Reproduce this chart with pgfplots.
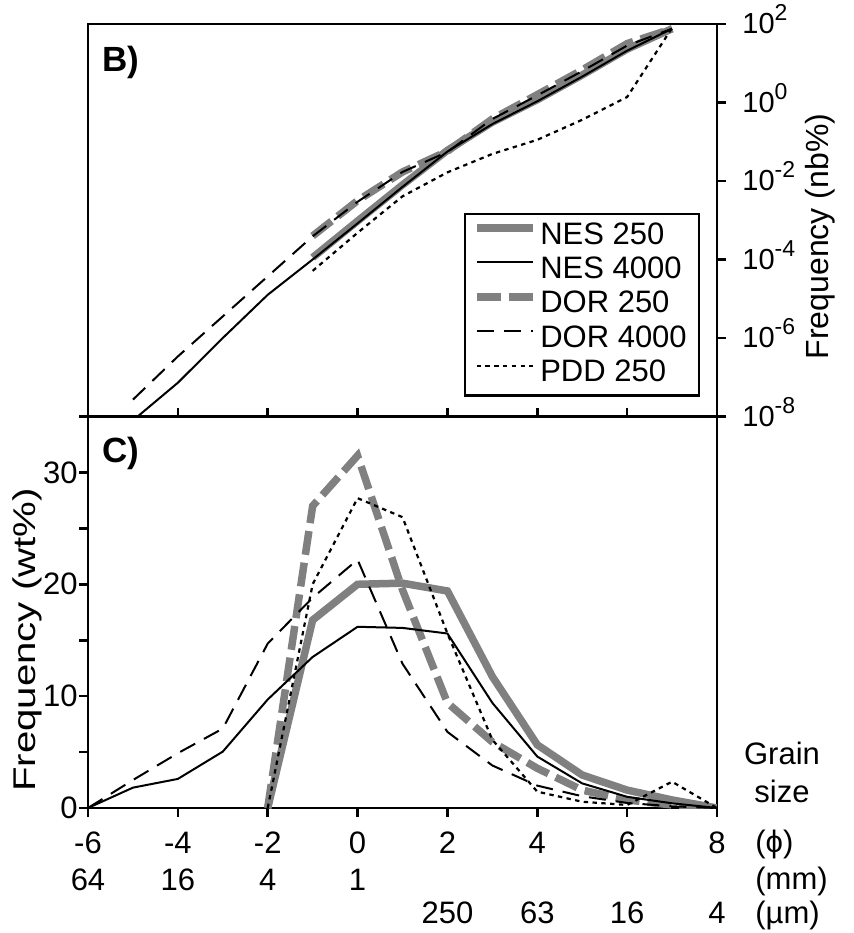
\documentclass[border=0pt]{standalone}
\usepackage{fontspec}
\setmainfont{Liberation Sans}
\usepackage{graphicx}
\usepackage{pgfplots}
\pgfplotsset{compat=1.18}
\definecolor{lg}{RGB}{128,128,128}
\newcommand{\tsup}[1]{10\smash{\raisebox{0.45em}{\fontsize{11.5}{11.5}\selectfont #1}}}
\newcommand{\fs}{\fontsize{15.5}{18}\selectfont}
\begin{document}
\begin{tikzpicture}
\useasboundingbox (0pt,0pt) rectangle (427pt,466.5pt);
\pgfplotsset{
  every axis/.append style={
    scale only axis, width=314.5pt, xmin=-6, xmax=8,
    axis line style={line width=1.3pt},
    every tick/.style={line width=1.3pt, black},
    major tick length=4.5pt,
    clip mode=individual,
  },
  nes250/.style={draw=lg, line width=3.75pt},
  nes4000/.style={black, line width=1pt},
  dor250/.style={draw=lg, line width=3.75pt, dash pattern=on 12pt off 4pt},
  dor4000/.style={black, line width=1pt, dash pattern=on 8.5pt off 5pt},
  pdd250/.style={black, line width=1.1pt, dash pattern=on 2.2pt off 2.2pt},
}
% ---------------- top panel (B) ----------------
\begin{axis}[at={(44pt,258.25pt)}, anchor=south west, height=196.25pt,
  ymode=log, ymin=1e-8, ymax=100,
  xtick=\empty, yminorticks=false,
  ytick={1e-8,1e-6,1e-4,1e-2,1,100},
  yticklabels={\tsup{-8},\tsup{-6},\tsup{-4},\tsup{-2},\tsup{0},\tsup{2}},
  ytick pos=right, yticklabel pos=right, tick align=outside,
  yticklabel style={font=\fontsize{14.5}{16}\selectfont, anchor=west, inner xsep=0pt, xshift=8pt},
  legend style={at={(0.973,0.05)}, anchor=south east, draw=black, line width=1.25pt,
    font=\fs, inner xsep=4pt, inner ysep=2.4pt, row sep=0pt,
    nodes={inner ysep=1.6pt, text height=11pt, text depth=3pt},
    /tikz/every even column/.append style={column sep=5pt}},
  legend cell align=left,
  legend image code/.code={\draw[#1] (0pt,4pt) -- (28pt,4pt);},
]
\addplot[nes250, forget plot] coordinates {(-1,1.12e-4) (0,9.55e-4) (1,7.94e-3) (2,6.03e-2) (3,0.316) (4,1.175) (5,5.01) (6,22.9) (7,75.9)};
\addplot[dor250, forget plot] coordinates {(-1,3.98e-4) (0,3.16e-3) (1,1.70e-2) (2,5.75e-2) (3,0.380) (4,1.585) (5,6.76) (6,31.6) (7,75.9)};
\addplot[nes4000, forget plot] coordinates {(-5,7.94e-9) (-4,7.24e-8) (-3,1e-6) (-2,1.26e-5) (-1,1e-4) (0,8.32e-4) (1,7.08e-3) (2,5.62e-2) (3,0.282) (4,1.072) (5,4.57) (6,20.9) (7,75.9)};
\addplot[dor4000, forget plot] coordinates {(-5,2.69e-8) (-4,3.39e-7) (-3,3.55e-6) (-2,3.72e-5) (-1,3.89e-4) (0,2.95e-3) (1,1.70e-2) (2,5.50e-2) (3,0.380) (4,1.514) (5,6.31) (6,28.2) (7,75.9)};
\addplot[pdd250, forget plot] coordinates {(-1,5.13e-5) (0,4.79e-4) (1,4.07e-3) (2,1.66e-2) (3,4.90e-2) (4,0.112) (5,0.363) (6,1.38) (7,79.4)};
\addlegendimage{nes250}\addlegendentry{NES 250}
\addlegendimage{nes4000}\addlegendentry{NES 4000}
\addlegendimage{dor250}\addlegendentry{DOR 250}
\addlegendimage{dor4000}\addlegendentry{DOR 4000}
\addlegendimage{pdd250}\addlegendentry{PDD 250}
\end{axis}
% ---------------- bottom panel (C) ----------------
\begin{axis}[at={(44pt,62.5pt)}, anchor=south west, height=195.75pt,
  ymin=0, ymax=35,
  xtick={-6,-4,-2,0,2,4,6,8}, xticklabels={}, xtick pos=both, tick align=outside,
  ytick={0,5,10,15,20,25,30,35}, yticklabels={0,{},10,{},20,{},30,{}}, ytick pos=left,
  yticklabel style={font=\fs, inner xsep=0.5pt},
]
\addplot[nes250] coordinates {(-2,0) (-1,16.8) (0,20.0) (1,20.1) (2,19.4) (3,11.75) (4,5.65) (5,2.95) (6,1.6) (7,0.72) (8,0)};
\addplot[dor250] coordinates {(-2,0) (-1,27.0) (0,31.5) (1,19.5) (2,9.4) (3,5.9) (4,3.55) (5,1.6) (6,0.72) (7,0.27) (8,0)};
\addplot[nes4000] coordinates {(-6,0) (-5,1.82) (-4,2.6) (-3,5.04) (-2,9.7) (-1,13.5) (0,16.2) (1,16.1) (2,15.6) (3,9.4) (4,4.6) (5,2.2) (6,1.0) (7,0.42) (8,0)};
\addplot[dor4000] coordinates {(-6,0) (-5,2.5) (-4,4.9) (-3,7.1) (-2,14.7) (-1,18.8) (0,22.2) (1,12.9) (2,6.8) (3,3.8) (4,2.0) (5,1.05) (6,0.45) (7,0.15) (8,0)};
\addplot[pdd250] coordinates {(-2,0) (-1,20.0) (0,27.7) (1,26.0) (2,15.6) (3,6.1) (4,1.46) (5,0.56) (6,0.27) (7,2.35) (8,0)};
% x tick labels, three rows
\node[anchor=base, inner sep=0pt, font=\fs, yshift=-22.5pt] at (axis cs:-6,0) {-6};
\node[anchor=base, inner sep=0pt, font=\fs, yshift=-22.5pt] at (axis cs:-4,0) {-4};
\node[anchor=base, inner sep=0pt, font=\fs, yshift=-22.5pt] at (axis cs:-2,0) {-2};
\node[anchor=base, inner sep=0pt, font=\fs, yshift=-22.5pt] at (axis cs:0,0) {0};
\node[anchor=base, inner sep=0pt, font=\fs, yshift=-22.5pt] at (axis cs:2,0) {2};
\node[anchor=base, inner sep=0pt, font=\fs, yshift=-22.5pt] at (axis cs:4,0) {4};
\node[anchor=base, inner sep=0pt, font=\fs, yshift=-22.5pt] at (axis cs:6,0) {6};
\node[anchor=base, inner sep=0pt, font=\fs, yshift=-22.5pt] at (axis cs:8,0) {8};
\node[anchor=base, inner sep=0pt, font=\fs, yshift=-41pt] at (axis cs:-6,0) {64};
\node[anchor=base, inner sep=0pt, font=\fs, yshift=-41pt] at (axis cs:-4,0) {16};
\node[anchor=base, inner sep=0pt, font=\fs, yshift=-41pt] at (axis cs:-2,0) {4};
\node[anchor=base, inner sep=0pt, font=\fs, yshift=-41pt] at (axis cs:0,0) {1};
\node[anchor=base, inner sep=0pt, font=\fs, yshift=-57.6pt] at (axis cs:2,0) {250};
\node[anchor=base, inner sep=0pt, font=\fs, yshift=-57.6pt] at (axis cs:4,0) {63};
\node[anchor=base, inner sep=0pt, font=\fs, yshift=-57.6pt] at (axis cs:6,0) {16};
\node[anchor=base, inner sep=0pt, font=\fs, yshift=-57.6pt] at (axis cs:8,0) {4};
\end{axis}
% ---------------- texts ----------------
\node[anchor=base west, inner sep=0pt, font=\fontsize{17.5}{20}\selectfont\bfseries] at (51pt,430.5pt) {B)};
\node[anchor=base west, inner sep=0pt, font=\fontsize{17.5}{20}\selectfont\bfseries] at (51pt,235pt) {C)};
\node[rotate=90, inner sep=0pt, font=\fontsize{16}{18}\selectfont] at (410pt,348.25pt) {Frequency (nb\%)};
\node[rotate=90, inner sep=0pt] at (13.75pt,146.5pt) {\scalebox{1.28}[1]{\fontsize{15.7}{18}\selectfont Frequency (wt\%)}};
\node[anchor=base, inner sep=0pt, font=\fs] at (391pt,84pt) {Grain};
\node[anchor=base, inner sep=0pt, font=\fs] at (391pt,65pt) {size};
\node[anchor=base west, inner sep=0pt, font=\fs] at (377.5pt,40pt) {(ϕ)};
\node[anchor=base west, inner sep=0pt, font=\fs] at (377.5pt,21.5pt) {(mm)};
\node[anchor=base west, inner sep=0pt, font=\fs] at (377.5pt,4.8pt) {(µm)};
\end{tikzpicture}
\end{document}
